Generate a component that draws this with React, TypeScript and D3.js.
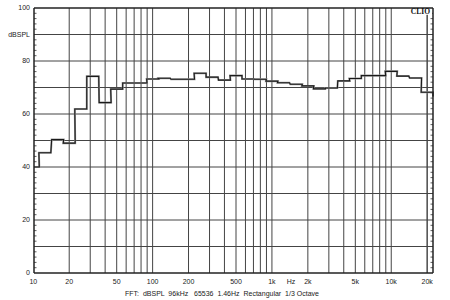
import React from "react";
import * as d3 from "d3";

const bandCenters = [10, 12.5, 16, 20, 25, 31.5, 40, 50, 63, 80, 100, 125, 160, 200, 250, 315, 400, 500, 630, 800, 1000, 1250, 1600, 2000, 2500, 3150, 4000, 5000, 6300, 8000, 10000, 12500, 16000, 20000];
const bandLevels = [40.0, 45.4, 50.4, 49.0, 61.9, 74.2, 64.3, 69.4, 71.7, 71.7, 73.2, 73.5, 73.1, 73.1, 75.4, 73.9, 72.8, 74.5, 73.2, 73.1, 72.4, 71.8, 71.2, 70.6, 69.5, 69.8, 72.5, 73.4, 74.5, 74.5, 76.1, 74.3, 73.6, 68.2];
const endDropLevel = 66.6;

const xTickLabels = [
  { f: 10, t: "10" }, { f: 20, t: "20" }, { f: 50, t: "50" }, { f: 100, t: "100" }, { f: 200, t: "200" },
  { f: 500, t: "500" }, { f: 1000, t: "1k" }, { f: 2000, t: "2k" }, { f: 5000, t: "5k" }, { f: 10000, t: "10k" }, { f: 20000, t: "20k" },
];
const yTickLabels = [
  { v: 100, t: "100" }, { v: 90, t: "dBSPL" }, { v: 80, t: "80" }, { v: 60, t: "60" }, { v: 40, t: "40" }, { v: 20, t: "20" }, { v: 0, t: "0" },
];
const unitLabel = "Hz";
const unitFreq = 1500;
const captionText = "FFT:  dBSPL  96kHz   65536  1.46Hz  Rectangular  1/3 Octave";
const brandText = "CLIO";

export default function App() {
  const W = 450, H = 300;
  const left = 34, right = 433, top = 8, bottom = 273;
  const fMax = 22387;
  const x = d3.scaleLog().domain([10, fMax]).range([33.3, 433]);
  const y = d3.scaleLinear().domain([0, 100]).range([bottom, top]);

  const gridF: number[] = [];
  for (let dec = 10; dec <= 10000; dec *= 10) {
    for (let m = 1; m <= 9; m++) {
      const f = dec * m;
      if (f > 10 && f <= 20000) gridF.push(f);
    }
  }
  gridF.push(20000);
  const gridY = d3.range(10, 100, 10);
  const minorY = d3.range(2, 100, 2).filter((v) => v % 10 !== 0);

  const pts: [number, number][] = [];
  bandCenters.forEach((c, i) => {
    const lo = Math.max(10, c * Math.pow(2, -1 / 6));
    const hi = Math.min(fMax, c * Math.pow(2, 1 / 6));
    pts.push([x(lo), y(bandLevels[i])]);
    pts.push([x(hi), y(bandLevels[i])]);
  });
  pts.push([x(fMax), y(endDropLevel)]);
  pts[0][0] = left;
  const line = d3.line();

  const font = "'Liberation Sans', Arial, sans-serif";
  return (
    <svg width={W} height={H} style={{ position: "absolute", left: 0, top: 0, background: "#fff" }}>
      <rect x={0} y={0} width={W} height={H} fill="#fff" />
      {gridY.map((v) => (
        <line key={"gy" + v} x1={left} x2={right} y1={y(v)} y2={y(v)} stroke="#444" strokeWidth={1} />
      ))}
      {gridF.map((f) => (
        <line key={"gx" + f} x1={x(f)} x2={x(f)} y1={top} y2={bottom} stroke="#444" strokeWidth={1} />
      ))}
      {minorY.map((v) => (
        <g key={"mt" + v}>
          <line x1={left} x2={left + 2.5} y1={y(v)} y2={y(v)} stroke="#333" strokeWidth={0.8} />
          <line x1={right - 2.5} x2={right} y1={y(v)} y2={y(v)} stroke="#333" strokeWidth={0.8} />
        </g>
      ))}
      <path d={line(pts) || ""} fill="none" stroke="#999" strokeWidth={2} strokeLinejoin="miter" />
      <path d={line(pts) || ""} fill="none" stroke="#1a1a1a" strokeWidth={1.1} strokeLinejoin="miter" />
      <rect x={410} y={8.8} width={22} height={6} fill="#fff" />
      <line x1={left} x2={right} y1={top} y2={top} stroke="#222" strokeWidth={1.5} />
      <line x1={left} x2={right} y1={bottom} y2={bottom} stroke="#222" strokeWidth={1.5} />
      <line x1={left} x2={left} y1={top} y2={bottom} stroke="#222" strokeWidth={1.5} />
      <line x1={right} x2={right} y1={top} y2={bottom} stroke="#222" strokeWidth={1.5} />
      {yTickLabels.map((d) => (
        <text key={"yl" + d.t} x={30} y={y(d.v)} dy="0.35em" textAnchor="end" fontFamily={font} fontSize={7} fill="#222">
          {d.t}
        </text>
      ))}
      {xTickLabels.map((d) => (
        <text key={"xl" + d.t} x={x(d.f)} y={282} dy="0.35em" textAnchor="middle" fontFamily={font} fontSize={7} fill="#222">
          {d.t}
        </text>
      ))}
      <text x={x(unitFreq) - 2} y={282} dy="0.35em" textAnchor="middle" fontFamily={font} fontSize={7} fill="#222">
        {unitLabel}
      </text>
      <text x={222} y={294} dy="0.35em" textAnchor="middle" fontFamily={font} fontSize={7} fill="#222" style={{ whiteSpace: "pre" }}>
        {captionText}
      </text>
      <text x={430} y={11.8} dy="0.35em" textAnchor="end" fontFamily="'Liberation Serif', serif" fontWeight="bold" fontSize={7.5} fill="#111">
        {brandText}
      </text>
    </svg>
  );
}
